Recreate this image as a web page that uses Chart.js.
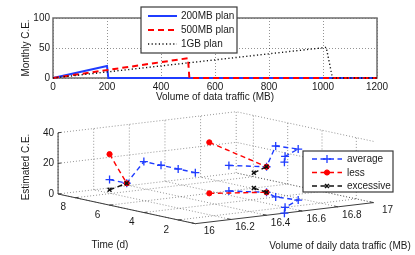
<!DOCTYPE html>
<html><head><meta charset="utf-8">
<script src="https://cdn.jsdelivr.net/npm/chart.js@4/dist/chart.umd.min.js"></script>
<style>
html,body{margin:0;padding:0;background:#fff;}
#wrap{position:relative;width:415px;height:255px;overflow:hidden;}
canvas{position:absolute;left:0;top:0;}
</style></head><body>
<div id="wrap">
<canvas id="topc" width="415" height="255"></canvas>
<canvas id="botc" width="415" height="255"></canvas>
</div>
<script>
// ---------------- DATA: top chart (monthly C.E. vs volume of traffic) ----------------
const planNames = ['200MB plan', '500MB plan', '1GB plan'];
const plan200Traffic = [0, 200, 205, 1200];
const plan200CE      = [0, 20, 0, 0];
const plan500Traffic = [0, 500, 505, 1200];
const plan500CE      = [0, 33, 0, 0];
const plan1GBTraffic = [0, 1012, 1035, 1200];
const plan1GBCE      = [0, 51, 0, 0];
const trafficTicks = [0, 200, 400, 600, 800, 1000, 1200];
const monthlyTicks = [0, 50, 100];

// ---------------- DATA: bottom 3-D chart ----------------
const seriesNames = ['average', 'less', 'excessive'];
const avgTime  = [6, 5, 4, 3, 2, 1];
const avgDaily = [16.67, 16.785, 16.74, 16.77, 16.60, 16.50];
const avgCE    = [16.7, 16.7, 33.3, 33.3, 33.3, 33.3];
const lessTime  = [6, 5];
const lessDaily = [16.56, 16.785];
const lessCE    = [33.3, 16.7];
const excTime  = [6, 5];
const excDaily = [16.81, 16.785];
const excCE    = [10, 16.7];
const timeTicks  = [2, 4, 6, 8];
const dailyTicks = [16, 16.2, 16.4, 16.6, 16.8, 17];
const dailyTickLabels = ['16', '16.2', '16.4', '16.6', '16.8', '17'];
const ceTicks = [0, 20, 40];
const TIME_MIN = 1, TIME_MAX = 9, DAILY_MIN = 16, DAILY_MAX = 17, CE_MIN = 0, CE_MAX = 40;

// ---------------- STYLE ----------------
const FONT = '"Liberation Sans", Arial, Helvetica, sans-serif';
const TEXT = '#1a1a1a';
const BLUE = '#1f3cff', RED = '#ff0000', BLACK = '#111111';
const GRID = 'rgba(0,0,0,0.42)';
const AXIS = '#6e6e6e';
Chart.defaults.font.family = FONT;
Chart.defaults.font.size = 10;
Chart.defaults.color = TEXT;
Chart.defaults.animation = false;

function pts(xs, ys) { return xs.map((x, i) => ({x: x, y: ys[i]})); }

// ---------------- TOP CHART ----------------
const topBox = {
  id: 'topBox',
  beforeDatasetsDraw(chart) {
    const {ctx, chartArea: a} = chart;
    ctx.save();
    ctx.strokeStyle = AXIS; ctx.lineWidth = 1.5;
    ctx.strokeRect(a.left, a.top, a.right - a.left, a.bottom - a.top);
    ctx.restore();
  },
  afterDraw(chart) {
    const ctx = chart.ctx;
    const bx = 141, by = 7, bw = 96, bh = 46;
    ctx.save();
    ctx.fillStyle = '#fff'; ctx.fillRect(bx, by, bw, bh);
    ctx.strokeStyle = '#3a3a3a'; ctx.lineWidth = 1.2; ctx.strokeRect(bx, by, bw, bh);
    ctx.font = '10px ' + FONT; ctx.textBaseline = 'middle'; ctx.textAlign = 'left';
    chart.data.datasets.forEach((ds, i) => {
      const y = by + 9 + i * 14;
      ctx.save();
      ctx.strokeStyle = ds.borderColor; ctx.lineWidth = ds.borderWidth;
      ctx.setLineDash(ds.borderDash || []);
      ctx.beginPath(); ctx.moveTo(bx + 7, y); ctx.lineTo(bx + 36, y); ctx.stroke();
      ctx.restore();
      ctx.fillStyle = TEXT; ctx.fillText(ds.label, bx + 40, y + 0.5);
    });
    ctx.restore();
  }
};

new Chart(document.getElementById('topc'), {
  type: 'scatter',
  data: {
    datasets: [
      {label: planNames[0], data: pts(plan200Traffic, plan200CE), showLine: true, borderColor: BLUE, borderWidth: 2, pointRadius: 0, clip: false},
      {label: planNames[1], data: pts(plan500Traffic, plan500CE), showLine: true, borderColor: RED, borderWidth: 2, borderDash: [6, 4], pointRadius: 0, clip: false},
      {label: planNames[2], data: pts(plan1GBTraffic, plan1GBCE), showLine: true, borderColor: BLACK, borderWidth: 1.4, borderDash: [1.2, 2.4], pointRadius: 0, clip: false}
    ].map((d, i) => Object.assign(d, {order: 2 - i}))
  },
  options: {
    responsive: false, animation: false, events: [],
    layout: {padding: {left: 0, top: 18, right: 38, bottom: 151}},
    plugins: {legend: {display: false}, tooltip: {enabled: false}},
    scales: {
      x: {
        type: 'linear', min: 0, max: 1200,
        afterFit(s) { s.height = 26; },
        afterBuildTicks(s) { s.ticks = trafficTicks.map(v => ({value: v})); },
        ticks: {padding: 3, maxRotation: 0, autoSkip: false, color: TEXT, callback: v => String(v)},
        grid: {color: GRID, lineWidth: 1, drawTicks: false},
        border: {display: false, dash: [1, 2]},
        title: {display: true, text: 'Volume of data traffic (MB)', padding: {top: 0, bottom: 1}, color: TEXT}
      },
      y: {
        type: 'linear', min: 0, max: 100,
        afterFit(s) { s.width = 53; },
        afterBuildTicks(s) { s.ticks = monthlyTicks.map(v => ({value: v})); },
        ticks: {padding: 3, color: TEXT, callback: v => String(v)},
        grid: {color: GRID, lineWidth: 1, drawTicks: false},
        border: {display: false, dash: [1, 2]},
        title: {display: true, text: 'Monthly C.E.', padding: {top: 20, bottom: 0}, color: TEXT}
      }
    }
  },
  plugins: [topBox]
});

// ---------------- BOTTOM 3-D CHART ----------------
// projection of (daily traffic, time, C.E.) onto the chart plane
const ORIGIN = {x: 195, y: 228};              // (DAILY_MIN, TIME_MIN, CE_MIN)
const E_DAILY = {x: 183, y: -22};              // per MB
const E_TIME = {x: -17.625, y: -3.875};        // per day
const E_CE = {x: 0, y: -1.6};                  // per C.E. unit
function proj(d, t, z) {
  const a = d - DAILY_MIN, b = t - TIME_MIN, c = z - CE_MIN;
  return {x: ORIGIN.x + a * E_DAILY.x + b * E_TIME.x + c * E_CE.x,
          y: ORIGIN.y + a * E_DAILY.y + b * E_TIME.y + c * E_CE.y};
}
function segs(list) { // list of [p1,p2] -> points with gaps
  const out = [];
  list.forEach(s => { out.push(s[0], s[1], {x: null, y: null}); });
  return out;
}
const gridSegs = [];
dailyTicks.forEach(d => {
  gridSegs.push([proj(d, TIME_MIN, CE_MIN), proj(d, TIME_MAX, CE_MIN)]);   // floor
  gridSegs.push([proj(d, TIME_MAX, CE_MIN), proj(d, TIME_MAX, CE_MAX)]);   // back-left wall
});
timeTicks.forEach(t => {
  gridSegs.push([proj(DAILY_MIN, t, CE_MIN), proj(DAILY_MAX, t, CE_MIN)]); // floor
  gridSegs.push([proj(DAILY_MAX, t, CE_MIN), proj(DAILY_MAX, t, CE_MAX)]); // back-right wall
});
ceTicks.forEach(z => {
  gridSegs.push([proj(DAILY_MIN, TIME_MAX, z), proj(DAILY_MAX, TIME_MAX, z)]);
  gridSegs.push([proj(DAILY_MAX, TIME_MIN, z), proj(DAILY_MAX, TIME_MAX, z)]);
});
const axisSegs = [
  [proj(DAILY_MIN, TIME_MAX, CE_MIN), proj(DAILY_MIN, TIME_MAX, CE_MAX)],
  [proj(DAILY_MIN, TIME_MAX, CE_MIN), proj(DAILY_MIN, TIME_MIN, CE_MIN)],
  [proj(DAILY_MIN, TIME_MIN, CE_MIN), proj(DAILY_MAX, TIME_MIN, CE_MIN)]
];
ceTicks.forEach(z => axisSegs.push([proj(DAILY_MIN, TIME_MAX, z), proj(DAILY_MIN + 0.018, TIME_MAX, z)]));
timeTicks.forEach(t => axisSegs.push([proj(DAILY_MIN, t, CE_MIN), proj(DAILY_MIN + 0.018, t, CE_MIN)]));
dailyTicks.forEach(d => axisSegs.push([proj(d, TIME_MIN, CE_MIN), proj(d, TIME_MIN + 0.2, CE_MIN)]));

const seriesStyles = [
  {color: BLUE, pointStyle: 'cross', radius: 4, pbw: 1.3, fill: BLUE, order: 3},
  {color: RED, pointStyle: 'circle', radius: 2.6, pbw: 1, fill: RED, order: 2},
  {color: BLACK, pointStyle: 'crossRot', radius: 2.8, pbw: 1.5, fill: BLACK, order: 1}
];
const seriesData = [
  [avgDaily, avgTime, avgCE],
  [lessDaily, lessTime, lessCE],
  [excDaily, excTime, excCE]
];
const botSets = [];
seriesData.forEach((sd, k) => {
  const [dd, tt, zz] = sd;
  const st = seriesStyles[k];
  const curves = [
    tt.map((t, i) => proj(dd[i], t, zz[i])),          // 3-D trajectory
    tt.map((t, i) => proj(dd[i], t, CE_MIN)),         // projection on floor
    tt.map((t, i) => proj(DAILY_MIN, t, zz[i]))       // projection on side plane
  ];
  curves.forEach(c => botSets.push({
    label: seriesNames[k], data: c, showLine: true, borderColor: st.color, borderWidth: 1.4,
    borderDash: [5, 3.5], pointStyle: st.pointStyle, pointRadius: st.radius,
    pointBorderWidth: st.pbw, pointBorderColor: st.color, pointBackgroundColor: st.fill,
    order: st.order, clip: false
  }));
});
botSets.push({label: 'grid', data: segs(gridSegs), showLine: true, borderColor: GRID, borderWidth: 1,
  borderDash: [1, 2], pointRadius: 0, spanGaps: false, order: 20});
botSets.push({label: 'axes', data: segs(axisSegs), showLine: true, borderColor: '#3c3c3c', borderWidth: 1,
  pointRadius: 0, spanGaps: false, order: 19});

function drawMarker(ctx, st, x, y) {
  ctx.save();
  ctx.strokeStyle = st.color; ctx.fillStyle = st.fill; ctx.lineWidth = st.pbw;
  ctx.beginPath();
  const r = st.radius;
  if (st.pointStyle === 'cross') { ctx.moveTo(x - r, y); ctx.lineTo(x + r, y); ctx.moveTo(x, y - r); ctx.lineTo(x, y + r); ctx.stroke(); }
  else if (st.pointStyle === 'crossRot') { const q = r * 0.7071; ctx.moveTo(x - q, y - q); ctx.lineTo(x + q, y + q); ctx.moveTo(x + q, y - q); ctx.lineTo(x - q, y + q); ctx.stroke(); }
  else { ctx.arc(x, y, r, 0, Math.PI * 2); ctx.fill(); ctx.stroke(); }
  ctx.restore();
}

const labels3d = {
  id: 'labels3d',
  afterDraw(chart) {
    const ctx = chart.ctx, sx = chart.scales.x, sy = chart.scales.y;
    const px = p => ({x: sx.getPixelForValue(p.x), y: sy.getPixelForValue(p.y)});
    ctx.save();
    ctx.fillStyle = TEXT; ctx.font = '10px ' + FONT;
    ctx.textAlign = 'right'; ctx.textBaseline = 'middle';
    ceTicks.forEach(v => { const p = px(proj(DAILY_MIN, TIME_MAX, v)); ctx.fillText(String(v), p.x - 4, p.y); });
    ctx.textAlign = 'center';
    timeTicks.forEach(v => { const p = px(proj(DAILY_MIN, v, CE_MIN)); ctx.fillText(String(v), p.x - 12, p.y + 10); });
    dailyTicks.forEach((v, i) => { const p = px(proj(v, TIME_MIN, CE_MIN)); ctx.fillText(dailyTickLabels[i], p.x + 14, p.y + 8); });
    // axis titles
    ctx.fillText('Time (d)', 110, 245);
    ctx.fillText('Volume of daily data traffic (MB)', 340, 246);
    ctx.save(); ctx.translate(26, 167); ctx.rotate(-Math.PI / 2); ctx.fillText('Estimated C.E.', 0, 0); ctx.restore();
    // legend
    const bx = 303, by = 151, bw = 90, bh = 41;
    ctx.fillStyle = '#fff'; ctx.fillRect(bx, by, bw, bh);
    ctx.strokeStyle = '#3a3a3a'; ctx.lineWidth = 1.2; ctx.strokeRect(bx, by, bw, bh);
    ctx.textAlign = 'left';
    seriesNames.forEach((n, k) => {
      const st = seriesStyles[k], y = by + 8 + k * 13.5;
      ctx.save(); ctx.strokeStyle = st.color; ctx.lineWidth = 1.4; ctx.setLineDash([5, 3.5]);
      ctx.beginPath(); ctx.moveTo(bx + 9, y); ctx.lineTo(bx + 39, y); ctx.stroke(); ctx.restore();
      drawMarker(ctx, st, bx + 24, y);
      ctx.fillStyle = TEXT; ctx.fillText(n, bx + 44, y + 0.5);
    });
    ctx.restore();
  }
};

new Chart(document.getElementById('botc'), {
  type: 'scatter',
  data: {datasets: botSets},
  options: {
    responsive: false, animation: false, events: [],
    layout: {padding: 0},
    plugins: {legend: {display: false}, tooltip: {enabled: false}},
    scales: {
      x: {type: 'linear', min: 0, max: 415, display: false},
      y: {type: 'linear', min: 0, max: 255, reverse: true, display: false}
    }
  },
  plugins: [labels3d]
});
</script>
</body></html>
